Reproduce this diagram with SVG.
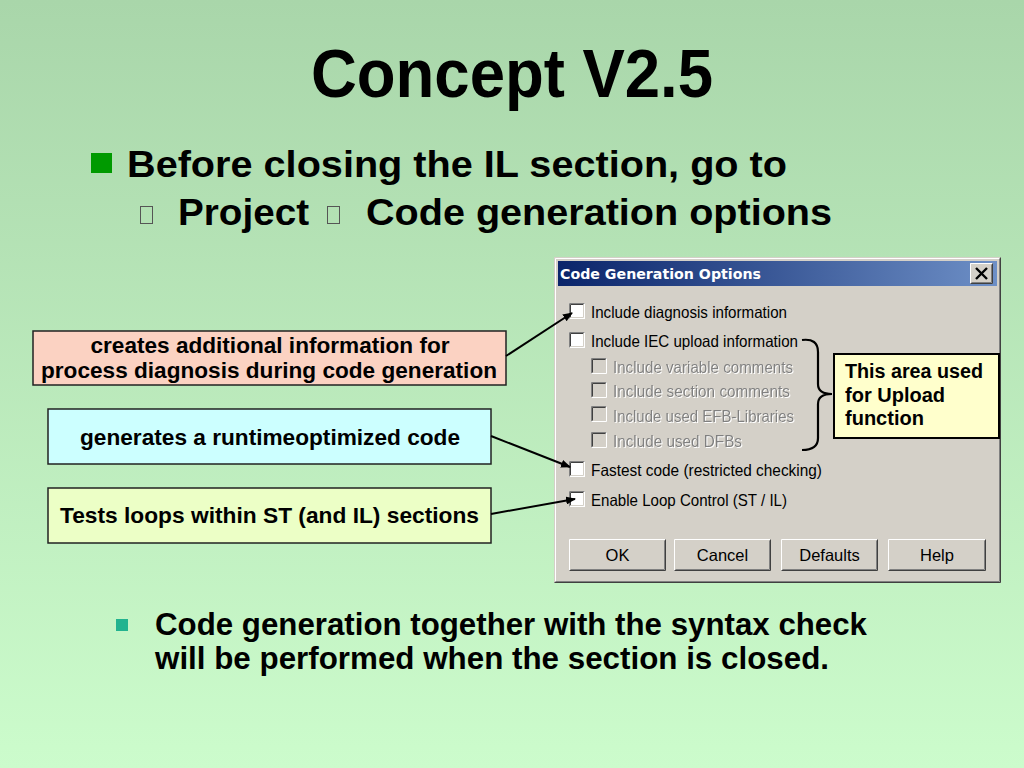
<svg xmlns="http://www.w3.org/2000/svg" width="1024" height="768" viewBox="0 0 1024 768">
<defs>
<linearGradient id="bg" x1="0" y1="0" x2="0" y2="1">
<stop offset="0" stop-color="#a9d6aa"/>
<stop offset="1" stop-color="#ccfccc"/>
</linearGradient>
<linearGradient id="tb" x1="0" y1="0" x2="1" y2="0">
<stop offset="0" stop-color="#0a246a"/>
<stop offset="1" stop-color="#6d8fc6"/>
</linearGradient>
<marker id="ah" markerWidth="10" markerHeight="8" refX="9" refY="4" orient="auto" markerUnits="userSpaceOnUse">
<path d="M0,0 L10,4 L0,8 Z" fill="#000"/>
</marker>
<filter id="emb" x="-5%" y="-20%" width="110%" height="140%">
<feDropShadow dx="1" dy="1" stdDeviation="0" flood-color="#ffffff" flood-opacity="1"/>
</filter>
<symbol id="cb" viewBox="0 0 16 16" overflow="visible">
<rect x="0" y="0" width="16" height="16" fill="#fff"/>
<path d="M0.5 15.5V0.5H15.5" fill="none" stroke="#808080"/>
<path d="M1.5 14.5V1.5H14.5" fill="none" stroke="#404040"/>
<path d="M1.5 14.5H14.5V1.5" fill="none" stroke="#d4d0c8"/>
</symbol>
<symbol id="cbd" viewBox="0 0 16 16" overflow="visible">
<rect x="0" y="0" width="16" height="16" fill="#d4d0c8"/>
<path d="M0.5 15.5V0.5H15.5" fill="none" stroke="#808080"/>
<path d="M1.5 14.5V1.5H14.5" fill="none" stroke="#404040"/>
<path d="M0.5 15.5H15.5V0.5" fill="none" stroke="#fff"/>
</symbol>
</defs>
<style>
.h{font-family:"Liberation Sans",Arial,sans-serif;font-weight:bold;fill:#000}
.lbl{font-family:"Liberation Sans",Arial,sans-serif;font-weight:bold;font-size:22px;fill:#000;text-anchor:middle}
.box{stroke:#222;stroke-width:1.5}
.dlg{font-family:"Liberation Sans",Arial,sans-serif;font-size:16.5px;fill:#000}
.dis{fill:#808080;filter:url(#emb)}
.btn{font-family:"Liberation Sans",Arial,sans-serif;font-size:16.5px;fill:#000;text-anchor:middle}
.conn{stroke:#000;stroke-width:2;fill:none;marker-end:url(#ah)}
</style>
<rect x="0" y="0" width="1024" height="768" fill="url(#bg)"/>

<g id="title">
<text class="h" x="512" y="97" font-size="68" text-anchor="middle" textLength="402" lengthAdjust="spacingAndGlyphs">Concept V2.5</text>
</g>

<g id="bullet1">
<rect x="91" y="153" width="21" height="20" fill="#009a00"/>
<text class="h" x="127" y="177" font-size="37" textLength="660" lengthAdjust="spacingAndGlyphs">Before closing the IL section, go to</text>
<rect x="140.5" y="206.5" width="12" height="17" fill="none" stroke="#555" stroke-width="1"/>
<text class="h" x="178" y="225" font-size="37" textLength="131" lengthAdjust="spacingAndGlyphs">Project</text>
<rect x="327.5" y="206.5" width="12" height="17" fill="none" stroke="#555" stroke-width="1"/>
<text class="h" x="366" y="225" font-size="37" textLength="466" lengthAdjust="spacingAndGlyphs">Code generation options</text>
</g>

<g id="dialog">
<rect x="554" y="257" width="447" height="326" fill="#d4d0c8"/>
<path d="M554.5 582.5H1000.5V257.5" fill="none" stroke="#404040"/>
<path d="M555.5 581.5V258.5H999.5" fill="none" stroke="#fff"/>
<path d="M555.5 581.5H999.5V258.5" fill="none" stroke="#808080"/>
<rect x="558" y="261" width="439" height="25" fill="url(#tb)"/>
<text x="560" y="279" font-family="'DejaVu Sans',Verdana,sans-serif" font-weight="bold" font-size="14.5" fill="#fff" textLength="201" lengthAdjust="spacingAndGlyphs">Code Generation Options</text>
<g id="closebtn">
<rect x="970" y="263" width="23" height="21" fill="#d4d0c8"/>
<path d="M970.5 283.5V263.5H992.5" fill="none" stroke="#fff"/>
<path d="M970.5 283.5H992.5V263.5" fill="none" stroke="#404040"/>
<path d="M971.5 282.5H991.5V264.5" fill="none" stroke="#808080"/>
<path d="M976 268L987 279M987 268L976 279" stroke="#000" stroke-width="2.4"/>
</g>

<use href="#cb" x="569" y="303" width="16" height="16"/>
<text class="dlg" x="591" y="318" textLength="196" lengthAdjust="spacingAndGlyphs">Include diagnosis information</text>
<use href="#cb" x="569" y="332" width="16" height="16"/>
<text class="dlg" x="591" y="347" textLength="207" lengthAdjust="spacingAndGlyphs">Include IEC upload information</text>

<use href="#cbd" x="591" y="358" width="16" height="16"/>
<text class="dlg dis" x="613" y="373" textLength="180" lengthAdjust="spacingAndGlyphs">Include variable comments</text>
<use href="#cbd" x="591" y="382" width="16" height="16"/>
<text class="dlg dis" x="613" y="397" textLength="177" lengthAdjust="spacingAndGlyphs">Include section comments</text>
<use href="#cbd" x="591" y="406" width="16" height="16"/>
<text class="dlg dis" x="613" y="421.5" textLength="181" lengthAdjust="spacingAndGlyphs">Include used EFB-Libraries</text>
<use href="#cbd" x="591" y="432" width="16" height="16"/>
<text class="dlg dis" x="613" y="446.5" textLength="129" lengthAdjust="spacingAndGlyphs">Include used DFBs</text>

<use href="#cb" x="569" y="461" width="16" height="16"/>
<text class="dlg" x="591" y="476" textLength="231" lengthAdjust="spacingAndGlyphs">Fastest code (restricted checking)</text>
<use href="#cb" x="569" y="491" width="16" height="16"/>
<text class="dlg" x="591" y="506" textLength="196" lengthAdjust="spacingAndGlyphs">Enable Loop Control (ST / IL)</text>

<g id="btn-ok">
<rect x="569" y="539" width="97" height="32" fill="#d4d0c8"/>
<path d="M569.5 570.5V539.5H665.5" fill="none" stroke="#fff"/>
<path d="M569.5 570.5H665.5V539.5" fill="none" stroke="#404040"/>
<path d="M570.5 569.5H664.5V540.5" fill="none" stroke="#808080"/>
<text class="btn" x="617.5" y="561">OK</text>
</g>
<g id="btn-cancel">
<rect x="674" y="539" width="97" height="32" fill="#d4d0c8"/>
<path d="M674.5 570.5V539.5H770.5" fill="none" stroke="#fff"/>
<path d="M674.5 570.5H770.5V539.5" fill="none" stroke="#404040"/>
<path d="M675.5 569.5H769.5V540.5" fill="none" stroke="#808080"/>
<text class="btn" x="722.5" y="561">Cancel</text>
</g>
<g id="btn-defaults">
<rect x="781" y="539" width="97" height="32" fill="#d4d0c8"/>
<path d="M781.5 570.5V539.5H877.5" fill="none" stroke="#fff"/>
<path d="M781.5 570.5H877.5V539.5" fill="none" stroke="#404040"/>
<path d="M782.5 569.5H876.5V540.5" fill="none" stroke="#808080"/>
<text class="btn" x="829.5" y="561">Defaults</text>
</g>
<g id="btn-help">
<rect x="888" y="539" width="98" height="32" fill="#d4d0c8"/>
<path d="M888.5 570.5V539.5H985.5" fill="none" stroke="#fff"/>
<path d="M888.5 570.5H985.5V539.5" fill="none" stroke="#404040"/>
<path d="M889.5 569.5H984.5V540.5" fill="none" stroke="#808080"/>
<text class="btn" x="937" y="561">Help</text>
</g>
</g>

<g id="brace">
<path d="M802 340 Q818 338 818 352 L818 384 Q818 394 832 394 Q818 394 818 404 L818 438 Q818 450 802 450" fill="none" stroke="#000" stroke-width="2.2"/>
</g>

<g id="upload-note">
<rect x="834" y="354" width="165" height="84" fill="#ffffcc" stroke="#000" stroke-width="2"/>
<text class="h" font-size="20" x="845" y="378" textLength="138" lengthAdjust="spacingAndGlyphs">This area used</text>
<text class="h" font-size="20" x="845" y="401.5">for Upload</text>
<text class="h" font-size="20" x="845" y="425">function</text>
</g>

<g id="note-diag">
<rect class="box" x="33" y="331" width="473" height="54" fill="#fbd2c2"/>
<text class="lbl" x="270" y="353" textLength="359" lengthAdjust="spacingAndGlyphs">creates additional information for</text>
<text class="lbl" x="269" y="378" textLength="456" lengthAdjust="spacingAndGlyphs">process diagnosis during code generation</text>
</g>
<g id="note-fast">
<rect class="box" x="48" y="409" width="443" height="55" fill="#ccffff"/>
<text class="lbl" x="270" y="445" textLength="380" lengthAdjust="spacingAndGlyphs">generates a runtimeoptimized code</text>
</g>
<g id="note-loop">
<rect class="box" x="48" y="488" width="443" height="55" fill="#ecffc6"/>
<text class="lbl" x="269.5" y="523" textLength="419" lengthAdjust="spacingAndGlyphs">Tests loops within ST (and IL) sections</text>
</g>

<g id="connectors">
<line class="conn" x1="506" y1="356" x2="572" y2="313"/>
<line class="conn" x1="491" y1="436" x2="570" y2="467"/>
<line class="conn" x1="491" y1="514" x2="575" y2="499"/>
</g>

<g id="bullet2">
<rect x="116" y="619" width="12" height="12" fill="#22b38f"/>
<text class="h" x="155" y="635" font-size="31" textLength="712" lengthAdjust="spacingAndGlyphs">Code generation together with the syntax check</text>
<text class="h" x="155" y="669" font-size="31" textLength="674" lengthAdjust="spacingAndGlyphs">will be performed when the section is closed.</text>
</g>
</svg>
